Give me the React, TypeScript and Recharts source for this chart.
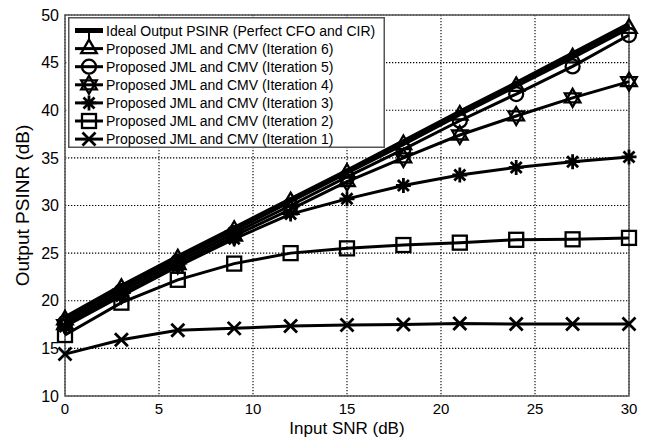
import {
	CartesianGrid,
	Legend,
	Line,
	LineChart,
	ReferenceArea,
	XAxis,
	YAxis,
} from "recharts";

// input SNR (dB) at which every curve was sampled
const snr = [0, 3, 6, 9, 12, 15, 18, 21, 24, 27, 30];

const ideal = [18.2, 21.5, 24.6, 27.6, 30.6, 33.6, 36.7, 39.8, 42.8, 45.9, 49.0];
const iter6 = [18.0, 21.3, 24.4, 27.4, 30.4, 33.4, 36.4, 39.5, 42.5, 45.5, 48.6];
const iter5 = [17.7, 21.0, 24.1, 27.1, 30.0, 33.0, 35.9, 38.9, 41.7, 44.6, 47.9];
const iter4 = [17.5, 20.7, 23.8, 26.8, 29.6, 32.5, 35.0, 37.4, 39.4, 41.3, 43.0];
const iter3 = [17.3, 20.5, 23.6, 26.5, 29.1, 30.7, 32.1, 33.2, 34.0, 34.6, 35.1];
const iter2 = [16.4, 19.8, 22.2, 23.9, 25.0, 25.5, 25.85, 26.1, 26.4, 26.45, 26.6];
const iter1 = [14.4, 15.9, 16.9, 17.1, 17.35, 17.45, 17.5, 17.6, 17.55, 17.55, 17.55];

const xTicks = [0, 5, 10, 15, 20, 25, 30];
const yTicks = [10, 15, 20, 25, 30, 35, 40, 45, 50];

type MarkerKind =
	| "ideal"
	| "triangle"
	| "circle"
	| "hexagram"
	| "asterisk"
	| "square"
	| "cross";

const SERIES: {
	key: string;
	name: string;
	values: number[];
	marker: MarkerKind;
	width: number;
}[] = [
	{ key: "ideal", name: "Ideal Output PSINR (Perfect CFO and CIR)", values: ideal, marker: "ideal", width: 5 },
	{ key: "iter6", name: "Proposed JML and CMV (Iteration 6)", values: iter6, marker: "triangle", width: 3 },
	{ key: "iter5", name: "Proposed JML and CMV (Iteration 5)", values: iter5, marker: "circle", width: 3 },
	{ key: "iter4", name: "Proposed JML and CMV (Iteration 4)", values: iter4, marker: "hexagram", width: 3 },
	{ key: "iter3", name: "Proposed JML and CMV (Iteration 3)", values: iter3, marker: "asterisk", width: 3 },
	{ key: "iter2", name: "Proposed JML and CMV (Iteration 2)", values: iter2, marker: "square", width: 3 },
	{ key: "iter1", name: "Proposed JML and CMV (Iteration 1)", values: iter1, marker: "cross", width: 3 },
];

const data = snr.map((x, i) => {
	const row: Record<string, number> = { snr: x };
	for (const s of SERIES) row[s.key] = s.values[i];
	return row;
});

const FONT = "'Liberation Sans', Arial, sans-serif";

function Marker({ kind, cx, cy }: { kind: MarkerKind; cx: number; cy: number }) {
	const p = { fill: "none", stroke: "#000", strokeWidth: 2.3 };
	const star = (r: number, angles: number[]) =>
		angles
			.map((a) => {
				const t = (a * Math.PI) / 180;
				return `${cx + r * Math.cos(t)},${cy + r * Math.sin(t)}`;
			})
			.join(" ");
	switch (kind) {
		case "triangle":
			return <polygon points={star(9, [-90, 30, 150])} {...p} />;
		case "circle":
			return <circle cx={cx} cy={cy} r={7} {...p} />;
		case "hexagram":
			return (
				<g>
					<polygon points={star(9, [-90, 30, 150])} {...p} />
					<polygon points={star(9, [90, 210, 330])} {...p} />
				</g>
			);
		case "asterisk":
			return (
				<path
					d={`M${cx - 7.5},${cy}h15M${cx},${cy - 7.5}v15M${cx - 5.5},${cy - 5.5}l11,11M${cx - 5.5},${cy + 5.5}l11,-11`}
					{...p}
					strokeWidth={2.8}
				/>
			);
		case "square":
			return <rect x={cx - 7} y={cy - 7} width={14} height={14} {...p} />;
		case "cross":
			return <path d={`M${cx - 6.5},${cy - 6.5}l13,13M${cx - 6.5},${cy + 6.5}l13,-13`} {...p} strokeWidth={2.8} />;
		default:
			return <g />;
	}
}

function LegendBox() {
	return (
		<svg width={317} height={131} style={{ display: "block" }}>
			<rect x={0.75} y={0.75} width={315.5} height={129.5} fill="#fff" stroke="#555" strokeWidth={1.5} />
			{SERIES.map((s, i) => {
				const cy = 13.5 + i * 18.1;
				return (
					<g key={s.key}>
						<line x1={7} x2={35} y1={cy} y2={cy} stroke="#000" strokeWidth={s.width} />
						{s.marker === "ideal" ? (
							<line x1={21} x2={21} y1={cy} y2={cy + 9} stroke="#000" strokeWidth={2} />
						) : (
							<Marker kind={s.marker} cx={21} cy={cy} />
						)}
						<text x={38} y={cy} dy="0.36em" fontSize={14} fontFamily={FONT} fill="#000">
							{s.name}
						</text>
					</g>
				);
			})}
		</svg>
	);
}

export default function App() {
	return (
		<div style={{ position: "absolute", left: 0, top: 0, background: "#fff" }}>
			<LineChart
				width={652}
				height={441}
				data={data}
				margin={{ top: 15, right: 23, left: 0, bottom: 0 }}
				style={{ fontFamily: FONT }}
			>
				<CartesianGrid stroke="#000" strokeDasharray="1.3 1.7" strokeWidth={1.1} />
				<XAxis
					dataKey="snr"
					type="number"
					domain={[0, 30]}
					ticks={xTicks}
					height={45}
					axisLine={false}
					tickLine={false}
					tickSize={0}
					tickMargin={7}
					tick={{ fill: "#000", fontSize: 15 }}
					label={{ value: "Input SNR (dB)", position: "insideBottom", offset: 7, fill: "#000", fontSize: 17 }}
				/>
				<YAxis
					type="number"
					domain={[10, 50]}
					ticks={yTicks}
					width={65}
					axisLine={false}
					tickLine={false}
					tickSize={0}
					tickMargin={6}
					tick={{ fill: "#000", fontSize: 16 }}
					label={{
						value: "Output PSINR (dB)",
						angle: -90,
						position: "insideLeft",
						offset: 22,
						fill: "#000",
						fontSize: 19,
						style: { textAnchor: "middle" },
					}}
				/>
				<ReferenceArea x1={0} x2={30} y1={10} y2={50} fill="none" fillOpacity={0} stroke="#555" strokeWidth={1.5} />
				{SERIES.map((s) => (
					<Line
						key={s.key}
						dataKey={s.key}
						name={s.name}
						type="linear"
						stroke="#000"
						strokeWidth={s.width}
						isAnimationActive={false}
						activeDot={false}
						dot={(p: { cx?: number; cy?: number; index?: number }) => (
							<Marker key={`${s.key}-${p.index}`} kind={s.marker} cx={p.cx ?? 0} cy={p.cy ?? 0} />
						)}
					/>
				))}
				<Legend
					layout="vertical"
					align="center"
					verticalAlign="middle"
					wrapperStyle={{ left: 68, top: 17, width: 317, height: 131 }}
					content={() => <LegendBox />}
				/>
			</LineChart>
		</div>
	);
}
